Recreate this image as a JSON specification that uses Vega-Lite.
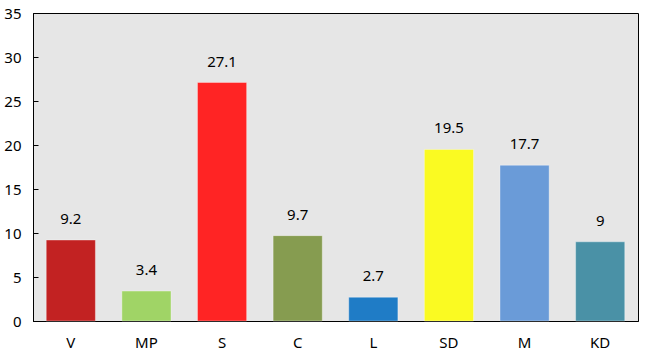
{
  "$schema": "https://vega.github.io/schema/vega-lite/v6.json",
  "width": 605,
  "height": 308,
  "autosize": {"type": "none"},
  "padding": {"left": 33, "top": 13, "right": 7, "bottom": 36},
  "background": "white",
  "config": {
    "view": {"fill": "#e6e6e6", "stroke": "#000000", "strokeWidth": 1},
    "font": "Noto Sans"
  },
  "data": {
    "values": [
      {"party": "V", "value": 9.2, "label": "9.2", "color": "#c22222"},
      {"party": "MP", "value": 3.4, "label": "3.4", "color": "#a0d466"},
      {"party": "S", "value": 27.1, "label": "27.1", "color": "#ff2424"},
      {"party": "C", "value": 9.7, "label": "9.7", "color": "#869c50"},
      {"party": "L", "value": 2.7, "label": "2.7", "color": "#1f7cc6"},
      {"party": "SD", "value": 19.5, "label": "19.5", "color": "#fafa22"},
      {"party": "M", "value": 17.7, "label": "17.7", "color": "#6a9bd8"},
      {"party": "KD", "value": 9, "label": "9", "color": "#4a91a6"}
    ]
  },
  "encoding": {
    "x": {
      "field": "party", "type": "nominal", "sort": null, "title": null,
      "scale": {"paddingInner": 0.35, "paddingOuter": 0.175},
      "axis": {"labelAngle": 0, "ticks": false, "labelPadding": 14, "labelFontSize": 15, "labelColor": "#000", "domainColor": "#000", "labelFont": "Noto Sans"}
    }
  },
  "layer": [
    {
      "mark": {"type": "bar", "stroke": "white", "strokeOpacity": 0.35, "strokeWidth": 1},
      "encoding": {
        "y": {
          "field": "value", "type": "quantitative", "title": null,
          "scale": {"domain": [0, 35], "nice": false},
          "axis": {"values": [0, 5, 10, 15, 20, 25, 30, 35], "grid": false, "tickSize": -5, "tickColor": "#000", "domainColor": "#000", "labelPadding": 17, "labelFontSize": 15, "labelColor": "#000", "labelFont": "Noto Sans"}
        },
        "color": {"field": "color", "type": "nominal", "scale": null}
      }
    },
    {
      "mark": {"type": "text", "dy": -21, "fontSize": 15, "color": "#000", "baseline": "middle"},
      "encoding": {
        "y": {"field": "value", "type": "quantitative"},
        "text": {"field": "label"}
      }
    }
  ]
}
